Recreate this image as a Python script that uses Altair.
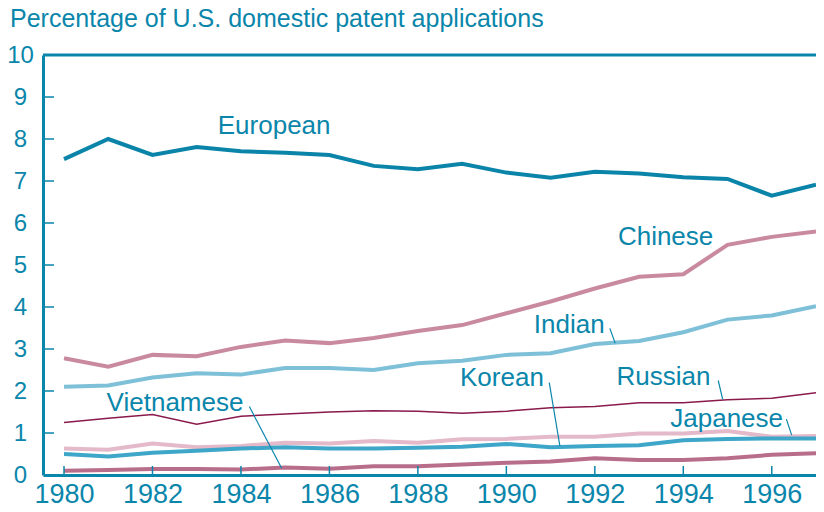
import altair as alt
import pandas as pd

years = list(range(1980, 1998))
european = [7.52, 8.00, 7.62, 7.81, 7.71, 7.67, 7.62, 7.36, 7.28, 7.41, 7.20, 7.08, 7.22, 7.18, 7.09, 7.05, 6.65, 6.91]
chinese = [2.78, 2.58, 2.86, 2.83, 3.05, 3.20, 3.14, 3.26, 3.43, 3.57, 3.85, 4.13, 4.44, 4.72, 4.78, 5.48, 5.67, 5.80]
indian = [2.10, 2.13, 2.32, 2.42, 2.39, 2.55, 2.55, 2.50, 2.66, 2.72, 2.86, 2.90, 3.12, 3.19, 3.40, 3.70, 3.80, 4.02]
russian = [1.25, 1.35, 1.44, 1.21, 1.40, 1.45, 1.50, 1.53, 1.52, 1.47, 1.52, 1.60, 1.63, 1.72, 1.72, 1.79, 1.83, 1.96]
japanese = [0.63, 0.60, 0.75, 0.66, 0.69, 0.77, 0.75, 0.81, 0.77, 0.85, 0.86, 0.91, 0.91, 0.99, 0.99, 1.05, 0.91, 0.93]
korean = [0.50, 0.44, 0.53, 0.58, 0.63, 0.66, 0.63, 0.63, 0.65, 0.67, 0.74, 0.66, 0.69, 0.71, 0.83, 0.86, 0.87, 0.87]
vietnamese = [0.10, 0.12, 0.14, 0.14, 0.13, 0.18, 0.15, 0.21, 0.21, 0.25, 0.29, 0.32, 0.40, 0.36, 0.36, 0.40, 0.48, 0.52]

series_names = ["European", "Chinese", "Indian", "Russian", "Japanese", "Korean", "Vietnamese"]
series_values = [european, chinese, indian, russian, japanese, korean, vietnamese]
series_colors = ["#0a84a8", "#c98aa0", "#7ec0d8", "#8a1a4c", "#e4b9c9", "#3ea6c8", "#b86d8b"]
series_widths = [4, 4, 4, 1.5, 4, 4, 4]

# label positions (data units: year, value at baseline)
label_names = ["European", "Chinese", "Indian", "Russian", "Japanese", "Korean", "Vietnamese"]
label_year = [1984.75, 1993.60, 1991.42, 1993.55, 1994.98, 1989.90, 1982.51]
label_value = [8.13, 5.47, 3.37, 2.14, 1.15, 2.12, 1.52]

# leader lines (data units)
leader_names = ["Indian", "Russian", "Japanese", "Korean", "Vietnamese"]
leader_x1 = [1992.34, 1994.79, 1996.33, 1990.97, 1984.19]
leader_y1 = [3.49, 2.25, 1.33, 2.20, 1.63]
leader_x2 = [1992.46, 1994.89, 1996.45, 1991.21, 1984.92]
leader_y2 = [3.14, 1.80, 0.95, 0.69, 0.16]

x_ticks = [1980, 1982, 1984, 1986, 1988, 1990, 1992, 1994, 1996]
y_ticks = [0, 1, 2, 3, 4, 5, 6, 7, 8, 9, 10]
y_inner_ticks = [1, 2, 3, 4, 5, 6, 7, 8, 9]

TEAL = "#0a86ab"
BG = "#bddce6"
FONT = "Liberation Sans"

rows = []
for name, vals in zip(series_names, series_values):
    for yr, v in zip(years, vals):
        rows.append({"series": name, "year": yr, "value": v})
df = pd.DataFrame(rows)

xscale = alt.Scale(domain=[1979.525, 1997.0], nice=False, zero=False)
yscale = alt.Scale(domain=[0, 10], nice=False)

xaxis = alt.Axis(values=x_ticks, format="d", ticks=False, grid=False, title=None,
                 labelFontSize=27, labelColor=TEAL, labelFont=FONT, labelPadding=6,
                 domainColor=TEAL, domainWidth=3, labelFlush=False)
yaxis = alt.Axis(values=y_ticks, ticks=False, grid=True, gridColor="white", gridWidth=1.5,
                 title=None, labelFontSize=24, labelColor=TEAL, labelFont=FONT,
                 labelAlign="center", labelBaseline="middle", labelPadding=23,
                 domainColor=TEAL, domainWidth=3, labelFlush=False)

layers = []
axis_layer = alt.Chart(pd.DataFrame({"year": [1980], "value": [0]})).mark_point(opacity=0).encode(
    x=alt.X("year:Q", scale=xscale, axis=xaxis),
    y=alt.Y("value:Q", scale=yscale, axis=yaxis),
)
layers.append(axis_layer)

for name, col, w in zip(series_names, series_colors, series_widths):
    layers.append(
        alt.Chart(df[df.series == name]).mark_line(color=col, strokeWidth=w, clip=True, strokeJoin="miter").encode(
            x=alt.X("year:Q", scale=xscale),
            y=alt.Y("value:Q", scale=yscale),
        )
    )

# top border
top_rule = alt.Chart(pd.DataFrame({"v": [10]})).mark_rule(color=TEAL, strokeWidth=3).encode(
    y=alt.Y("v:Q", scale=yscale)
)
layers.append(top_rule)

# inward ticks
ytick_df = pd.DataFrame({"v": y_inner_ticks})
ytick = alt.Chart(ytick_df).mark_rule(color=TEAL, strokeWidth=1.5).encode(
    y=alt.Y("v:Q", scale=yscale), x=alt.value(0), x2=alt.value(11)
)
xtick_df = pd.DataFrame({"yr": x_ticks})
xtick = alt.Chart(xtick_df).mark_rule(color=TEAL, strokeWidth=1.5).encode(
    x=alt.X("yr:Q", scale=xscale), y=alt.value(420), y2=alt.value(411)
)
layers += [ytick, xtick]

# leader lines
lead_df = pd.DataFrame({"name": leader_names, "x1": leader_x1, "y1": leader_y1, "x2": leader_x2, "y2": leader_y2})
leaders = alt.Chart(lead_df).mark_rule(color=TEAL, strokeWidth=1.2).encode(
    x=alt.X("x1:Q", scale=xscale), y=alt.Y("y1:Q", scale=yscale),
    x2="x2:Q", y2="y2:Q",
)
layers.append(leaders)

# labels
lab_df = pd.DataFrame({"name": label_names, "x": label_year, "y": label_value})
labels = alt.Chart(lab_df).mark_text(color=TEAL, fontSize=26, font=FONT, align="center", baseline="alphabetic").encode(
    x=alt.X("x:Q", scale=xscale), y=alt.Y("y:Q", scale=yscale), text="name:N"
)
layers.append(labels)

chart = alt.layer(*layers).properties(
    width=773, height=420,
    autosize=alt.AutoSizeParams(type="none"),
    padding={"left": 35, "top": 47, "right": 0, "bottom": 37},
    title=alt.TitleParams("Percentage of U.S. domestic patent applications", anchor="start", dx=-33,
                          dy=23, fontSize=25, font=FONT, fontWeight="normal", color=TEAL, frame="group",
                          baseline="alphabetic", offset=14),
).configure_view(fill=BG, stroke=None).configure(background="white")

chart.save("out.html", embed_options={"renderer": "svg", "actions": False})
